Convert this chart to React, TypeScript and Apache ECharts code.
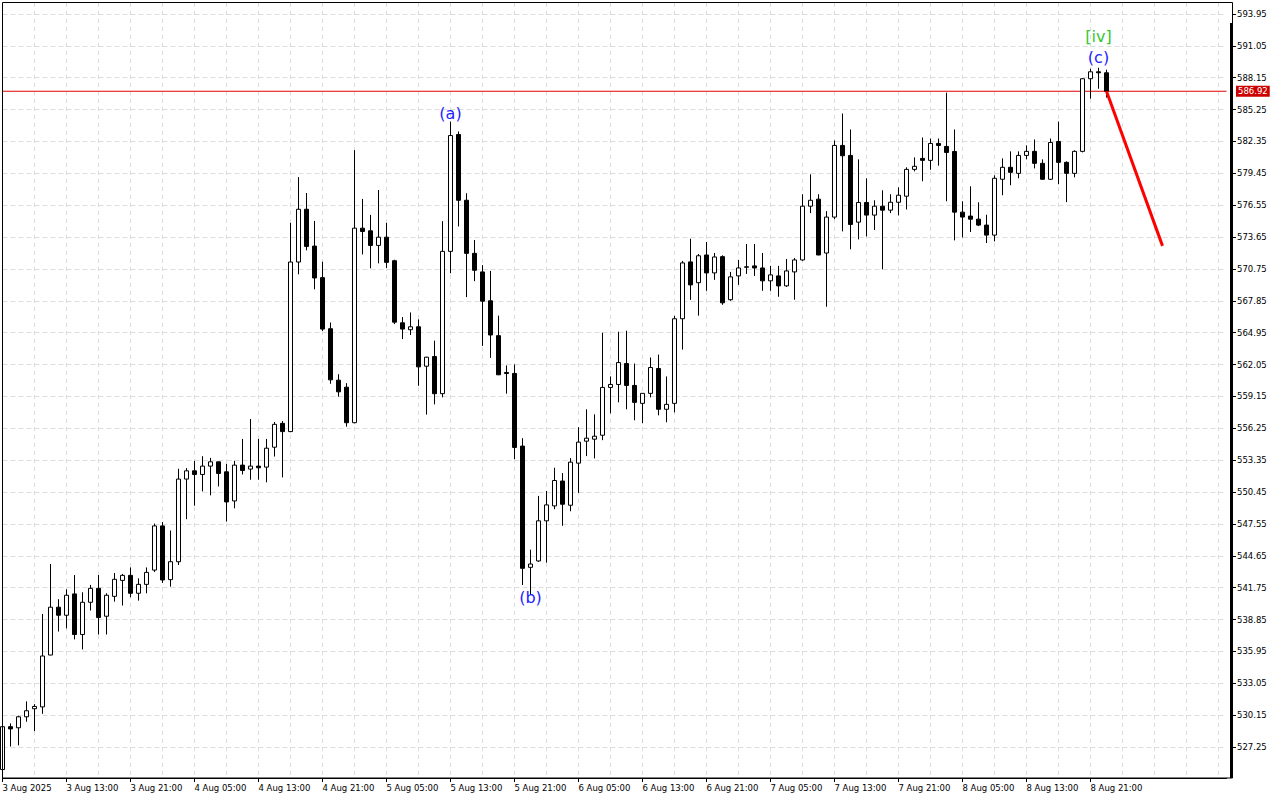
import React, { useEffect, useRef } from 'react';
import * as echarts from 'echarts';

// Hourly candles starting 3 Aug 05:00
const opens = [
  525.2, 529.1, 529.0, 530.0, 530.73, 530.9, 535.62, 539.97, 539.24, 541.18,
  537.49, 540.42, 541.69, 539.15, 540.96, 542.41, 542.87, 541.24, 542.05, 543.35,
  547.37, 542.48, 544.11, 551.63, 552.38, 552.05, 552.81, 553.2, 552.29, 549.64,
  552.9, 552.54, 552.81, 552.72, 554.53, 556.7, 555.95, 571.38, 576.18, 572.83,
  569.96, 565.31, 560.63, 559.99, 556.76, 574.46, 574.22, 572.89, 573.64, 571.5,
  565.85, 565.22, 565.49, 561.9, 562.78, 559.4, 572.35, 582.98, 577.0, 572.17,
  570.48, 567.85, 564.68, 561.33, 561.24, 554.63, 543.6, 544.18, 547.83, 549.19,
  551.45, 549.25, 553.08, 555.08, 555.26, 555.62, 559.97, 560.24, 562.14, 560.15,
  558.52, 559.43, 561.69, 557.98, 558.52, 566.22, 571.39, 569.5, 572.02, 570.39,
  571.87, 567.95, 570.12, 570.9, 571.03, 570.84, 569.67, 570.12, 569.21, 570.48,
  571.57, 576.46, 577.1, 572.2, 575.47, 581.99, 581.08, 575.01, 576.8, 575.65,
  576.46, 576.1, 576.82, 577.37, 579.81, 580.81, 580.63, 582.17, 581.9, 581.44,
  575.92, 575.56, 575.28, 574.74, 573.83, 578.91, 580.0, 579.45, 581.08, 581.45,
  580.36, 578.91, 582.35, 580.45, 579.45, 581.45, 588.06, 588.69, 588.6
];
const highs = [
  529.2, 529.4, 530.1, 531.4, 531.15, 539.36, 543.9, 540.7, 541.6, 542.9,
  541.33, 542.0, 542.9, 541.24, 543.08, 543.0, 543.59, 542.6, 543.59, 547.58,
  547.73, 546.95, 552.57, 552.63, 553.29, 553.71, 553.56, 553.2, 553.02, 553.29,
  555.28, 557.1, 555.28, 555.28, 556.82, 556.91, 574.94, 579.11, 577.66, 575.12,
  571.41, 565.88, 561.17, 560.36, 581.56, 577.12, 575.67, 577.93, 574.94, 571.59,
  566.37, 566.79, 566.16, 562.75, 564.23, 575.1, 584.16, 583.26, 577.64, 573.38,
  571.09, 570.57, 566.5, 561.97, 562.06, 555.35, 545.21, 550.1, 550.55, 552.66,
  552.18, 553.54, 556.35, 557.98, 557.52, 564.95, 560.97, 565.04, 565.13, 562.14,
  559.43, 562.69, 562.96, 560.97, 566.49, 571.48, 573.5, 572.11, 573.2, 572.2,
  571.99, 570.48, 571.57, 573.02, 573.02, 572.2, 571.03, 571.03, 571.66, 571.75,
  577.55, 579.36, 577.55, 576.01, 582.44, 584.89, 583.44, 580.72, 579.0, 577.0,
  577.91, 577.55, 578.18, 580.0, 580.9, 582.71, 582.62, 582.62, 586.79, 583.44,
  576.91, 578.27, 576.82, 575.68, 579.27, 580.81, 581.45, 581.45, 581.99, 582.53,
  580.72, 582.62, 584.16, 580.54, 581.54, 588.1, 588.97, 589.06, 588.88
];
const lows = [
  525.0, 527.3, 527.4, 529.55, 528.7, 530.27, 535.6, 537.76, 538.04, 537.04,
  536.13, 539.67, 537.49, 537.49, 540.48, 540.12, 540.87, 540.57, 541.24, 543.17,
  542.18, 541.84, 543.81, 547.98, 549.21, 550.51, 550.15, 550.96, 547.76, 548.97,
  552.05, 551.57, 551.57, 551.33, 553.68, 551.78, 555.9, 570.26, 572.44, 568.9,
  565.1, 560.3, 559.12, 556.4, 556.7, 572.07, 570.81, 571.26, 570.84, 565.73,
  564.37, 564.74, 560.12, 557.5, 558.43, 559.07, 570.36, 574.62, 568.19, 569.64,
  563.75, 562.66, 561.09, 559.4, 553.45, 541.99, 541.09, 544.1, 544.03, 548.89,
  547.38, 548.7, 550.37, 553.72, 553.51, 555.17, 557.61, 558.61, 557.98, 556.98,
  556.71, 559.06, 557.43, 556.8, 557.7, 563.41, 567.94, 566.5, 568.76, 569.76,
  567.49, 567.85, 569.3, 570.3, 570.12, 568.76, 568.76, 568.22, 569.12, 567.95,
  571.5, 575.83, 572.0, 567.31, 575.28, 574.17, 572.54, 573.44, 573.71, 574.29,
  570.72, 575.83, 575.62, 576.16, 579.63, 578.73, 579.78, 580.15, 576.91, 573.35,
  573.62, 574.11, 574.65, 573.11, 573.26, 577.46, 578.37, 579.0, 580.72, 579.9,
  578.85, 578.85, 578.46, 576.83, 579.09, 581.36, 586.25, 587.15, 586.34
];
const closes = [
  529.1, 528.9, 530.0, 530.55, 530.94, 535.53, 539.97, 539.24, 541.06, 537.49,
  540.42, 541.69, 539.03, 541.06, 542.51, 542.87, 541.24, 542.05, 543.14, 547.37,
  542.45, 544.11, 551.63, 552.38, 552.05, 552.81, 553.2, 552.14, 549.55, 552.9,
  552.41, 552.81, 552.66, 554.44, 556.61, 555.95, 571.38, 576.18, 572.8, 569.93,
  565.28, 560.66, 559.57, 556.76, 574.46, 574.16, 572.89, 573.64, 571.35, 565.91,
  565.28, 565.49, 561.84, 562.72, 559.4, 572.35, 582.89, 577.0, 572.17, 570.63,
  567.82, 564.74, 561.12, 561.24, 554.51, 543.51, 543.9, 547.83, 549.28, 551.5,
  549.34, 553.17, 554.99, 555.35, 555.53, 559.97, 560.24, 562.23, 560.15, 558.61,
  559.43, 561.78, 557.98, 558.43, 566.22, 571.3, 569.3, 571.95, 570.39, 571.84,
  567.67, 570.03, 570.84, 570.95, 570.84, 569.67, 570.21, 569.21, 570.57, 571.57,
  576.46, 577.0, 572.02, 575.47, 581.99, 581.05, 574.8, 576.8, 575.65, 576.46,
  576.1, 576.82, 577.46, 579.81, 580.09, 580.63, 582.17, 581.99, 581.35, 575.92,
  575.47, 575.28, 574.74, 573.83, 579.0, 580.0, 579.54, 581.08, 581.45, 580.36,
  578.91, 582.26, 580.45, 579.45, 581.45, 588.06, 588.69, 588.6, 586.92
];

const xTickLabels = [
  '3 Aug 2025', '3 Aug 13:00', '3 Aug 21:00', '4 Aug 05:00', '4 Aug 13:00', '4 Aug 21:00',
  '5 Aug 05:00', '5 Aug 13:00', '5 Aug 21:00', '6 Aug 05:00', '6 Aug 13:00', '6 Aug 21:00',
  '7 Aug 05:00', '7 Aug 13:00', '7 Aug 21:00', '8 Aug 05:00', '8 Aug 13:00', '8 Aug 21:00'
];
const yTickValues = [
  527.25, 530.15, 533.05, 535.95, 538.85, 541.75, 544.65, 547.55, 550.45, 553.35,
  556.25, 559.15, 562.05, 564.95, 567.85, 570.75, 573.65, 576.55, 579.45, 582.35,
  585.25, 588.15, 591.05, 593.95
];
const currentPrice = 586.92;
const forecastX = [138, 145];
const forecastY = [586.92, 572.85];
const waveX = [56, 66, 137, 137];
const waveY = [584.94, 540.81, 589.95, 591.86];
const waveText = ['(a)', '(b)', '(c)', '[iv]'];
const waveColor = ['#1e1eff', '#1e1eff', '#1e1eff', '#34c834'];

const TOTAL_SLOTS = 154;
const START_DAY = 3;
const START_HOUR = 5;
const LABEL_STEP = 8;
const GRID_STEP = 4;

const FONT = 'DejaVu Sans';

export default function App() {
  const ref = useRef<HTMLDivElement>(null);

  useEffect(() => {
    if (!ref.current) return;
    const chart = echarts.init(ref.current, null, { renderer: 'svg' });

    const categories: string[] = [];
    for (let i = 0; i < TOTAL_SLOTS; i++) {
      const h = START_HOUR + i;
      const d = START_DAY + Math.floor(h / 24);
      const hh = h % 24;
      categories.push(`${d} Aug ${hh < 10 ? '0' + hh : hh}:00`);
    }
    const lastLabelIdx = (xTickLabels.length - 1) * LABEL_STEP;

    const candleData = opens.map((o, i) => [o, closes[i], lows[i], highs[i]]);
    const forecastData = forecastX.map((x, i) => [x, forecastY[i]]);
    const priceLineData = [
      [0, currentPrice],
      [TOTAL_SLOTS - 1, currentPrice]
    ];
    const waveData = waveX.map((x, i) => ({
      value: [x, waveY[i]],
      label: { formatter: waveText[i], color: waveColor[i], opacity: 1 }
    }));

    const option: any = {
      animation: false,
      backgroundColor: '#ffffff',
      textStyle: { fontFamily: FONT },
      grid: {
        left: 2.5,
        top: 3,
        right: 53.5,
        bottom: 22,
        show: false,
        containLabel: false,
        outerBoundsMode: 'none'
      },
      graphic: [
        {
          type: 'rect',
          silent: true,
          z: 100,
          shape: { x: 2.5, y: 2.5, width: 1230, height: 775.5 },
          style: { fill: 'none', stroke: '#000000', lineWidth: 1 }
        },
        {
          type: 'rect',
          silent: true,
          z: 100,
          shape: { x: 1230, y: 23, width: 3, height: 755 },
          style: { fill: '#000000' }
        }
      ],
      xAxis: {
        type: 'category',
        data: categories,
        boundaryGap: false,
        axisLine: { show: true, lineStyle: { color: '#000000', width: 1 } },
        axisTick: {
          show: true,
          length: 4,
          interval: (idx: number) => idx % LABEL_STEP === 0 && idx <= lastLabelIdx,
          lineStyle: { color: '#000000' }
        },
        axisLabel: {
          show: true,
          interval: (idx: number) => idx % LABEL_STEP === 0 && idx <= lastLabelIdx,
          formatter: (_v: string, idx: number) =>
            idx % LABEL_STEP === 0 && idx <= lastLabelIdx ? xTickLabels[idx / LABEL_STEP] : '',
          align: 'left',
          margin: 5,
          color: '#000000',
          fontSize: 8.5,
          fontFamily: FONT
        },
        splitLine: {
          show: true,
          interval: (idx: number) => idx % GRID_STEP === 0 && idx > 0,
          lineStyle: { color: '#dcdcdc', type: [4, 4], width: 1 }
        }
      },
      yAxis: {
        type: 'value',
        position: 'right',
        offset: 5.5,
        min: 524.43,
        max: 594.95,
        scale: true,
        axisLine: { show: false },
        axisTick: {
          show: true,
          length: 4,
          customValues: yTickValues,
          lineStyle: { color: '#000000' }
        },
        axisLabel: {
          show: true,
          customValues: yTickValues,
          formatter: (v: number) => v.toFixed(2),
          margin: 5,
          color: '#000000',
          fontSize: 8.5,
          fontFamily: FONT
        },
        splitLine: {
          show: true,
          lineStyle: { color: '#dcdcdc', type: [5, 3], width: 1 }
        }
      },
      series: [
        {
          type: 'line',
          name: 'price',
          data: priceLineData,
          symbol: 'none',
          silent: true,
          color: '#e00000',
          lineStyle: { color: '#e00000', width: 1, type: 'solid' },
          endLabel: {
            show: true,
            formatter: () => currentPrice.toFixed(2),
            distance: 9.5,
            color: '#ffffff',
            backgroundColor: '#cc0000',
            padding: [1, 2, 1, 2],
            fontSize: 8.5,
            fontFamily: FONT
          },
          z: 1
        },
        {
          type: 'candlestick',
          data: candleData,
          barWidth: 4,
          itemStyle: {
            color: '#ffffff',
            color0: '#000000',
            borderColor: '#000000',
            borderColor0: '#000000',
            borderColorDoji: '#000000',
            borderWidth: 1
          },
          z: 2
        },
        {
          type: 'line',
          data: forecastData,
          symbol: 'none',
          color: '#ff0000',
          lineStyle: { color: '#ff0000', width: 3 },
          z: 5
        },
        {
          type: 'scatter',
          data: waveData,
          symbol: 'circle',
          symbolSize: 1,
          itemStyle: { color: 'rgba(0,0,0,0)', opacity: 1 },
          label: {
            show: true,
            position: 'inside',
            fontSize: 16,
            fontFamily: FONT,
            opacity: 1
          },
          z: 6
        }
      ]
    };

    chart.setOption(option);
    return () => chart.dispose();
  }, []);

  return (
    <div
      ref={ref}
      style={{ position: 'absolute', left: 0, top: 0, width: 1280, height: 800 }}
    />
  );
}
